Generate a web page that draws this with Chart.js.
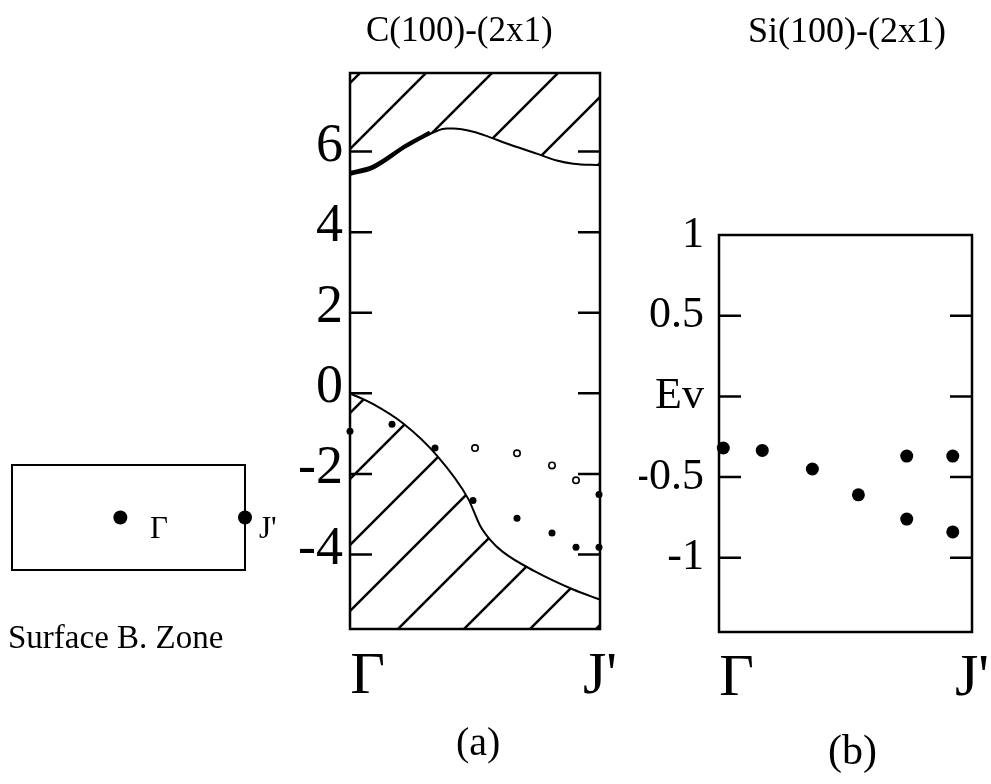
<!DOCTYPE html>
<html>
<head>
<meta charset="utf-8">
<script src="https://cdn.jsdelivr.net/npm/chart.js@4.4.0/dist/chart.umd.min.js"></script>
<style>
  body { margin: 0; background: #fff; }
  #wrap { position: relative; width: 991px; height: 784px; overflow: hidden; background: #fff;
          font-family: "Liberation Serif", "Times New Roman", serif; color: #000; }
  canvas { position: absolute; left: 0; top: 0; }
  .lbl { position: absolute; white-space: nowrap; line-height: 1; }
</style>
</head>
<body>
<div id="wrap">
  <canvas id="zone" width="991" height="784"></canvas>
  <canvas id="chartA" width="991" height="784"></canvas>
  <canvas id="chartB" width="991" height="784"></canvas>

  <div class="lbl" style="left:366px; top:12px; font-size:35px">C(100)-(2x1)</div>
  <div class="lbl" style="left:748px; top:12px; font-size:36px">Si(100)-(2x1)</div>
  <div class="lbl" style="left:456px; top:722px; font-size:40px">(a)</div>
  <div class="lbl" style="left:828px; top:729px; font-size:42px">(b)</div>
  <div class="lbl" style="left:8px; top:621px; font-size:33px">Surface B. Zone</div>
  <div class="lbl" style="left:150px; top:512px; font-size:31px">&Gamma;</div>
  <div class="lbl" style="left:259px; top:512px; font-size:31px">J'</div>
</div>

<script>
// k runs from Gamma (0) to J' (1) in both panels

// (a) C(100)-(2x1) : bulk band edges (eV)
const cbX = [0, 0.093, 0.227, 0.347, 0.387, 0.413, 0.493, 0.553, 0.627, 0.747, 0.827, 0.893, 1];
const cbY = [5.42, 5.58, 6.12, 6.51, 6.57, 6.57, 6.49, 6.37, 6.20, 5.95, 5.78, 5.70, 5.66];
// heavier stroke along the start of the conduction edge
const cbThickX = [0, 0.093, 0.227, 0.32];
const cbThickY = [5.47, 5.63, 6.16, 6.47];
const vbX = [0, 0.093, 0.213, 0.347, 0.473, 0.52, 0.56, 0.61, 0.74, 0.893, 1];
const vbY = [0, -0.27, -0.75, -1.54, -2.62, -3.28, -3.63, -3.93, -4.42, -4.87, -5.12];

// (a) surface states: filled and open dots
const aDotX = [0, 0.168, 0.34, 0.492, 0.668, 0.808, 0.904, 0.996, 0.996];
const aDotY = [-0.94, -0.77, -1.36, -2.66, -3.10, -3.47, -3.82, -3.82, -2.51];
const aRingX = [0.5, 0.668, 0.808, 0.904];
const aRingY = [-1.36, -1.49, -1.79, -2.16];

// (b) Si(100)-(2x1) surface states
const bDotX = [0.017, 0.171, 0.369, 0.551, 0.742, 0.742, 0.924, 0.924];
const bDotY = [-0.32, -0.335, -0.45, -0.61, -0.37, -0.76, -0.37, -0.84];

// tick labels
const aTicks = [6, 4, 2, 0, -2, -4];
const bTicks = [1, 0.5, 0, -0.5, -1];
const bTickText = ['1', '0.5', 'Ev', '-0.5', '-1'];
const kLabels = ['\u0393', "J'"];
const kLabelAt = [0.07, 1];

// surface brillouin zone inset: Gamma in the middle, J' on the edge
const zoneX = [0.465, 1];
const zoneY = [0.5, 0.5];

const SERIF = "'Liberation Serif', 'Times New Roman', serif";

function pts(xs, ys) {
    return xs.map((x, i) => ({ x: x, y: ys[i] }));
}

// diagonal hatching, lines x + y = off (mod step) in page pixels
function hatch(step, off) {
    const c = document.createElement('canvas');
    c.width = step;
    c.height = step;
    const g = c.getContext('2d');
    g.strokeStyle = '#000';
    g.lineWidth = 2.5;
    for (let k = -1; k <= 2; k++) {
        const v = off + k * step;
        g.beginPath();
        g.moveTo(v + 10, -10);
        g.lineTo(v - step - 10, step + 10);
        g.stroke();
    }
    return g.createPattern(c, 'repeat');
}

// box round the plot and short inner ticks on both sides
function frame(tickVals, len, width) {
    return {
        id: 'frame',
        beforeDatasetsDraw(chart) {
            const { ctx, chartArea: a, scales } = chart;
            ctx.save();
            ctx.strokeStyle = '#000';
            ctx.lineWidth = width;
            ctx.strokeRect(a.left, a.top, a.right - a.left, a.bottom - a.top);
            if (scales.y) {
                tickVals.forEach(v => {
                    if (v <= scales.y.min || v >= scales.y.max) return;
                    const y = scales.y.getPixelForValue(v);
                    ctx.beginPath();
                    ctx.moveTo(a.left, y);
                    ctx.lineTo(a.left + len, y);
                    ctx.moveTo(a.right - len, y);
                    ctx.lineTo(a.right, y);
                    ctx.stroke();
                });
            }
            ctx.restore();
        }
    };
}

function xAxis(pad) {
    return {
        type: 'linear', min: 0, max: 1,
        grid: { display: false, drawTicks: false },
        border: { display: false },
        afterBuildTicks: s => { s.ticks = kLabelAt.map(v => ({ value: v })); },
        afterFit: s => { s.height = 90; s.paddingLeft = 0; s.paddingRight = 0; },
        ticks: {
            autoSkip: false, maxRotation: 0, padding: pad, color: '#000',
            font: { family: SERIF, size: 60 },
            callback: (v, i) => kLabels[i]
        }
    };
}

const pattern = hatch(66, 37);

new Chart(document.getElementById('chartA'), {
    type: 'line',
    data: {
        datasets: [
            { data: pts(aDotX, aDotY), showLine: false, pointRadius: 3.5, pointBackgroundColor: '#000',
              pointBorderWidth: 0, clip: false, order: 0 },
            { data: pts(aRingX, aRingY), showLine: false, pointRadius: 3.2, pointBackgroundColor: '#fff',
              pointBorderColor: '#000', pointBorderWidth: 1.6, clip: false, order: 1 },
            { data: pts(cbThickX, cbThickY), borderColor: '#000', borderWidth: 4, pointRadius: 0,
              cubicInterpolationMode: 'monotone', fill: false, order: 2 },
            { data: pts(cbX, cbY), borderColor: '#000', borderWidth: 2, pointRadius: 0,
              cubicInterpolationMode: 'monotone', fill: 'end', backgroundColor: pattern, order: 3 },
            { data: pts(vbX, vbY), borderColor: '#000', borderWidth: 2, pointRadius: 0,
              cubicInterpolationMode: 'monotone', fill: 'start', backgroundColor: pattern, order: 4 }
        ]
    },
    options: {
        responsive: false,
        animation: false,
        events: [],
        layout: { padding: { left: 270, right: 391, top: 73, bottom: 65 } },
        plugins: { legend: { display: false }, tooltip: { enabled: false } },
        scales: {
            x: xAxis(12),
            y: {
                min: -5.85, max: 7.95,
                grid: { display: false, drawTicks: false },
                border: { display: false },
                afterBuildTicks: s => { s.ticks = aTicks.map(v => ({ value: v })); },
                afterFit: s => { s.width = 80; s.paddingTop = 0; s.paddingBottom = 0; },
                ticks: {
                    padding: 7, labelOffset: -5, color: '#000',
                    font: { family: SERIF, size: 54 },
                    callback: v => String(v)
                }
            }
        }
    },
    plugins: [frame(aTicks, 22, 2.5)]
});

new Chart(document.getElementById('chartB'), {
    type: 'line',
    data: {
        datasets: [
            { data: pts(bDotX, bDotY), showLine: false, pointRadius: 6.5, pointBackgroundColor: '#000',
              pointBorderWidth: 0, clip: false }
        ]
    },
    options: {
        responsive: false,
        animation: false,
        events: [],
        layout: { padding: { left: 639, right: 19, top: 235, bottom: 62 } },
        plugins: { legend: { display: false }, tooltip: { enabled: false } },
        scales: {
            x: xAxis(11),
            y: {
                min: -1.46, max: 1,
                grid: { display: false, drawTicks: false },
                border: { display: false },
                afterBuildTicks: s => { s.ticks = bTicks.map(v => ({ value: v })); },
                afterFit: s => { s.width = 80; s.paddingTop = 0; s.paddingBottom = 0; },
                ticks: {
                    padding: 15, color: '#000',
                    font: { family: SERIF, size: 44 },
                    callback: v => bTickText[bTicks.indexOf(v)]
                }
            }
        }
    },
    plugins: [frame(bTicks, 22, 2.5)]
});

new Chart(document.getElementById('zone'), {
    type: 'line',
    data: {
        datasets: [
            { data: pts(zoneX, zoneY), showLine: false, pointRadius: 7, pointBackgroundColor: '#000',
              pointBorderWidth: 0, clip: false }
        ]
    },
    options: {
        responsive: false,
        animation: false,
        events: [],
        layout: { padding: { left: 12, right: 746, top: 465, bottom: 214 } },
        plugins: { legend: { display: false }, tooltip: { enabled: false } },
        scales: {
            x: { type: 'linear', min: 0, max: 1, display: false },
            y: { min: 0, max: 1, display: false }
        }
    },
    plugins: [frame([], 0, 2)]
});
</script>
</body>
</html>
